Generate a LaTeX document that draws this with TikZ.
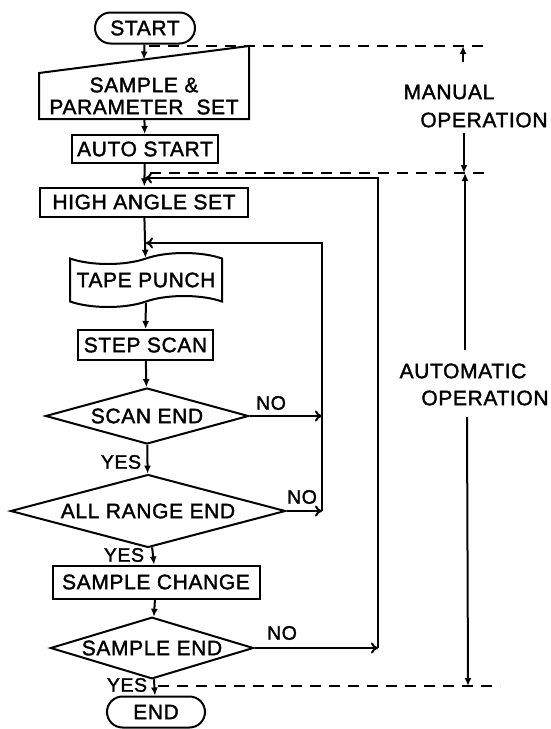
\documentclass[tikz,border=0pt]{standalone}
\usepackage{fontspec}
\setmainfont{Liberation Sans}[FakeBold=1.6, LetterSpace=3]
\usetikzlibrary{shapes.geometric,shapes.misc,shapes.symbols,arrows.meta,calc}
\begin{document}
\begin{tikzpicture}[x=1pt,y=-1pt, line width=2pt,
  every node/.style={font=\fontsize{21}{24}\selectfont},
  proc/.style={draw, rectangle, inner sep=0pt},
  term/.style={draw, rounded rectangle, inner sep=0pt},
  dec/.style={draw, diamond, inner sep=0pt, aspect=3},
  flow/.style={-{Latex[length=8pt,width=7pt]}},
  back/.style={-{To[length=7pt,width=11pt]}},
  dashln/.style={dash pattern=on 11pt off 8pt, line width=1.8pt},
  yn/.style={font=\fontsize{19.5}{22}\selectfont, inner sep=0pt},
  side/.style={font=\fontsize{21}{24}\selectfont, inner sep=0pt}]
\useasboundingbox (0,0) rectangle (551,729);

% nodes
\node[term, minimum width=100pt, minimum height=31pt] (start) at (145,28) {START};
\node[minimum width=208pt, minimum height=44pt, inner sep=0pt, align=center, font=\fontsize{21}{22}\selectfont] (sample) at (144,96) {SAMPLE \&\\PARAMETER\ \ SET};
\draw (sample.south west) -- (sample.north west) -- ($(sample.north east)+(0,-27)$) -- (sample.south east) -- cycle;
\coordinate (sampletop) at ($(sample.north west)!0.5!($(sample.north east)+(0,-27)$)$);
\node[proc, minimum width=146pt, minimum height=28pt] (auto) at (145,149) {AUTO START};
\node[proc, minimum width=208pt, minimum height=29pt] (high) at (144,202) {HIGH ANGLE SET};
\node[draw, tape, inner sep=0pt, minimum width=152pt, minimum height=54pt, tape bend height=11pt] (tape) at (146,280) {TAPE PUNCH};
\node[proc, minimum width=135pt, minimum height=30pt] (step) at (145.5,345) {STEP SCAN};
\node[dec, minimum width=203pt, minimum height=56pt] (scan) at (147,416) {SCAN END};
\node[dec, minimum width=275pt, minimum height=68pt] (all) at (148,511) {ALL RANGE END};
\node[proc, minimum width=207pt, minimum height=33pt] (chg) at (156,582) {SAMPLE CHANGE};
\node[dec, minimum width=203pt, minimum height=54pt] (send) at (152,648) {SAMPLE END};
\node[term, minimum width=98pt, minimum height=31pt] (end) at (156,712) {END};

% main flow
\draw[flow] (start) -- (sampletop);
\draw[flow] (sample) -- (auto);
\draw[flow] (auto) -- (high);
\draw[flow] (high) -- (tape);
\draw[flow] (tape) -- (step);
\draw[flow] (step) -- (scan);
\draw[flow] (scan) -- (all);
\draw[flow] (all) -- (chg);
\draw[flow] (chg) -- (send);
\draw[flow] (send) -- (end);

% inner loop
\coordinate (ir) at (322,243);
\coordinate (ij) at (146,243);
\draw[back] (scan.east) -- (scan.east -| ir);
\draw[back] (all.east) -- (all.east -| ir);
\draw[back] (all.east -| ir) -- (ir) -- (ij);

% outer loop
\coordinate (or) at (378,178);
\coordinate (oj) at (145,178);
\draw[back] (send.east) -- (send.east -| or);
\draw[back] (send.east -| or) -- (or) -- (oj);

% labels
\node[yn] (no1) at (271,403) {NO};
\node[yn] (yes1) at (121,462) {YES};
\node[yn] (no2) at (302,497) {NO};
\node[yn] (yes2) at (124,555) {YES};
\node[yn] (no3) at (282,633) {NO};
\node[yn] (yes3) at (127,685) {YES};

% dashed boundaries
\coordinate (d1a) at (149,46);  \coordinate (d1b) at (488,46);
\coordinate (d2a) at (150,173); \coordinate (d2b) at (490,173);
\coordinate (d3a) at (158,686); \coordinate (d3b) at (500,686);
\draw[dashln] (d1a) -- (d1b);
\draw[dashln] (d2a) -- (d2b);
\draw[dashln] (d3a) -- (d3b);

% side annotations
\node[side] (man) at (449,92) {MANUAL};
\node[side] (manop) at (484,120) {OPERATION};
\node[side] (aut) at (463,371) {AUTOMATIC};
\node[side] (autop) at (485,398) {OPERATION};
\coordinate (m1) at (463,62);  \coordinate (m1t) at (463,46);
\coordinate (m2) at (464,133); \coordinate (m2t) at (464,173);
\coordinate (a1) at (465,350); \coordinate (a1t) at (465,173);
\coordinate (a2) at (467,417); \coordinate (a2t) at (468,686);
\draw[flow] (m1) -- (m1t);
\draw[flow] (m2) -- (m2t);
\draw[flow] (a1) -- (a1t);
\draw[flow] (a2) -- (a2t);
\end{tikzpicture}
\end{document}
